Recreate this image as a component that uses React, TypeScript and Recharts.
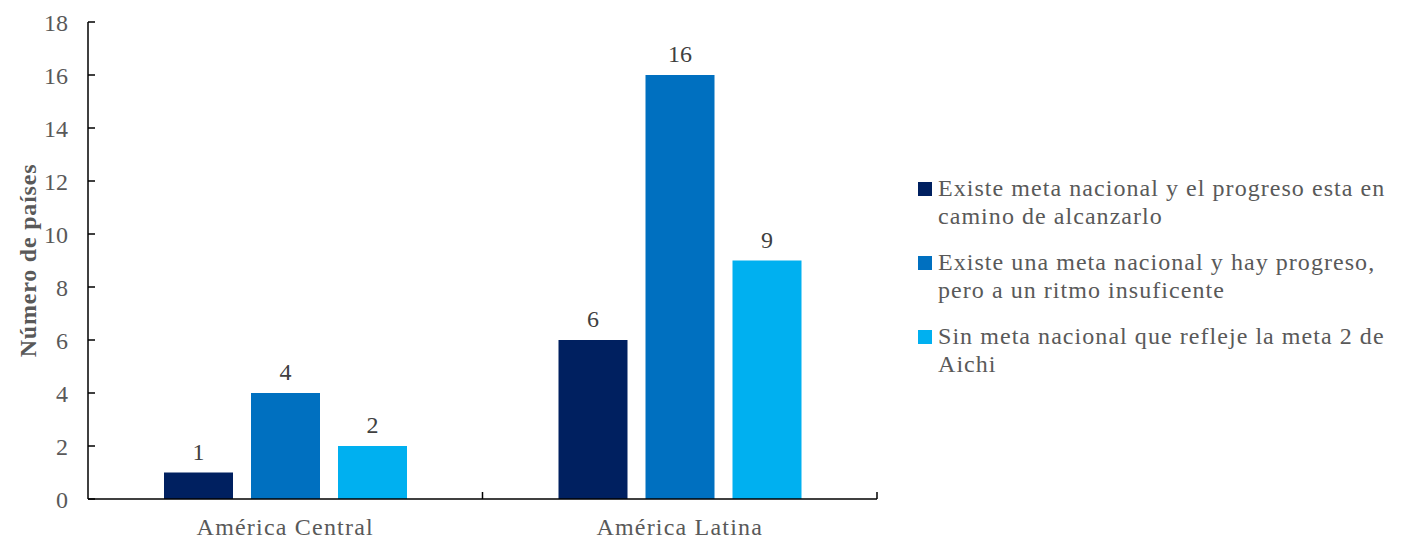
import React from "react";
import { BarChart, Bar, XAxis, YAxis, LabelList, Label } from "recharts";

const categories = ["América Central", "América Latina"];
const seriesNames = [
  "Existe meta nacional y el progreso esta en camino de alcanzarlo",
  "Existe una meta nacional y hay progreso, pero a un ritmo insuficente",
  "Sin meta nacional que refleje la meta 2 de Aichi",
];
const seriesKeys = ["s1", "s2", "s3"];
const seriesColors = ["#002060", "#0070C0", "#00B0F0"];
const s1Values = [1, 6];
const s2Values = [4, 16];
const s3Values = [2, 9];
const yTicks = [0, 2, 4, 6, 8, 10, 12, 14, 16, 18];

const data = categories.map((c, i) => ({
  name: c,
  s1: s1Values[i],
  s2: s2Values[i],
  s3: s3Values[i],
}));

const FONT = "'Liberation Serif', 'Times New Roman', serif";
const GRAY = "#595959";
const X_TICK_MARGIN = 19;

const CategoryTick = (props: any) => {
  const { x, y, payload } = props;
  const axisY = y - X_TICK_MARGIN;
  const half = payload && typeof payload.offset === "number" ? payload.offset : 0;
  return (
    <g>
      {half > 0 && (
        <line x1={x + half} x2={x + half} y1={axisY} y2={axisY - 7} stroke="#000" strokeWidth={1.5} />
      )}
      <text
        x={x}
        y={y}
        dy="0.71em"
        textAnchor="middle"
        fill={GRAY}
        fontSize={24}
        fontFamily={FONT}
        letterSpacing={1.2}
      >
        {payload.value}
      </text>
    </g>
  );
};

export default function App() {
  return (
    <div style={{ position: "fixed", left: 0, top: 0, width: 1403, height: 542, background: "#fff" }}>
      <BarChart
        width={1403}
        height={542}
        data={data}
        margin={{ top: 22, right: 526, bottom: 0, left: 0 }}
        barSize={69}
        barGap={18}
      >
        <XAxis
          dataKey="name"
          height={43}
          tickLine={false}
          tickSize={0}
          tickMargin={X_TICK_MARGIN}
          axisLine={{ stroke: "#000", strokeWidth: 1.5 }}
          tick={<CategoryTick />}
          interval={0}
        />
        <YAxis
          width={88}
          domain={[0, 18]}
          ticks={yTicks}
          interval={0}
          tickSize={-7}
          tickMargin={27}
          axisLine={{ stroke: "#000", strokeWidth: 1.5 }}
          tickLine={{ stroke: "#000", strokeWidth: 1.5 }}
          tick={{ fill: GRAY, fontSize: 24, fontFamily: FONT }}
        >
          <Label
            content={(p: any) => {
              const vb = p.viewBox || {};
              const cx = (vb.x || 0) + 28;
              const cy = (vb.y || 0) + (vb.height || 0) / 2;
              return (
                <text
                  x={cx}
                  y={cy}
                  transform={`rotate(-90, ${cx}, ${cy})`}
                  textAnchor="middle"
                  dominantBaseline="central"
                  fill={GRAY}
                  fontSize={24}
                  fontWeight="bold"
                  fontFamily={FONT}
                  letterSpacing={0.8}
                >
                  Número de países
                </text>
              );
            }}
          />
        </YAxis>
        {seriesKeys.map((k, i) => (
          <Bar key={k} dataKey={k} name={seriesNames[i]} fill={seriesColors[i]} isAnimationActive={false}>
            <LabelList
              dataKey={k}
              position="top"
              offset={13}
              fill="#404040"
              fontSize={24}
              fontFamily={FONT}
            />
          </Bar>
        ))}
      </BarChart>
      <div
        style={{
          position: "absolute",
          left: 918,
          top: 174,
          width: 478,
          fontFamily: FONT,
          fontSize: 24,
          letterSpacing: 1.05,
          color: GRAY,
          lineHeight: "28px",
        }}
      >
        {seriesNames.map((n, i) => (
          <div key={n} style={{ display: "flex", alignItems: "flex-start", marginBottom: 18 }}>
            <div
              style={{
                width: 14,
                height: 14,
                background: seriesColors[i],
                marginTop: 8,
                marginRight: 6,
                flexShrink: 0,
              }}
            />
            <div>{n}</div>
          </div>
        ))}
      </div>
    </div>
  );
}
